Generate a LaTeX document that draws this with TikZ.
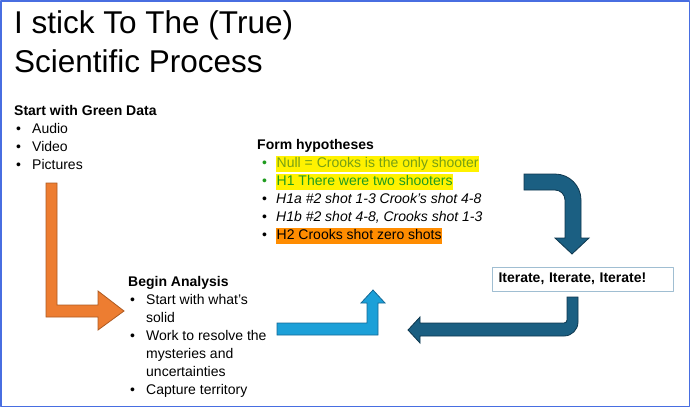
\documentclass[tikz,border=0pt]{standalone}
\usepackage{fontspec}
\setmainfont{Liberation Sans}
\definecolor{framecol}{RGB}{72,110,225}
\definecolor{orangefill}{RGB}{237,125,49}
\definecolor{orangeline}{RGB}{174,90,33}
\definecolor{skyfill}{RGB}{28,160,216}
\definecolor{skyline}{RGB}{20,105,150}
\definecolor{navyfill}{RGB}{27,95,130}
\definecolor{navyline}{RGB}{14,55,78}
\definecolor{boxline}{RGB}{160,190,210}
\definecolor{nullcol}{RGB}{118,160,20}
\definecolor{hgreen}{RGB}{30,155,30}
\definecolor{hlorange}{RGB}{255,140,0}
\tikzset{
  title/.style={anchor=base west,inner sep=0pt,font=\fontsize{31.5}{39}\selectfont},
  txt/.style={anchor=base west,inner sep=0pt,font=\fontsize{14}{18}\selectfont},
  head/.style={txt,font=\fontsize{14}{18}\selectfont\bfseries},
  bulletdot/.style={txt},
  hl/.style={txt,inner xsep=0.5pt,inner ysep=1.5pt,text height=10pt,text depth=3.5pt},
  blockarrow/.style={line width=0.8pt,line join=miter}
}
\begin{document}
\begin{tikzpicture}[x=1pt,y=-1pt,line join=round]
	\useasboundingbox (0,0) rectangle (690,407);
	\draw[framecol,line width=1.5pt] (0.75,0.75) rectangle (689.25,406.25);
	% title
	\node[title] (t1) at (14,33) {I stick To The (True)};
	\node[title] (t2) at (14,72) {Scientific Process};
	% green data
	\node[head] (data) at (14,115) {Start with Green Data};
	\node[txt] (d1) at (32,133) {Audio};
	\node[txt] (d2) at (32,151) {Video};
	\node[txt] (d3) at (32,169) {Pictures};
	\foreach \y in {133,151,169} \node[bulletdot] at (16,\y) {•};
	% hypotheses
	\node[head] (hyp) at (257,149) {Form hypotheses};
	\node[hl,fill=yellow,text=nullcol] (h0) at (276,167) {Null = Crooks is the only shooter};
	\node[hl,fill=yellow,text=hgreen] (h1) at (276,185) {H1 There were two shooters};
	\node[txt] (h1a) at (276,203) {\itshape H1a \#2 shot 1-3 Crook’s shot 4-8};
	\node[txt] (h1b) at (276,221) {\itshape H1b \#2 shot 4-8, Crooks shot 1-3};
	\node[hl,fill=hlorange] (h2) at (276,239) {H2 Crooks shot zero shots};
	\foreach \y in {167,185} \node[bulletdot,text=hgreen] at (262,\y) {•};
	\foreach \y in {203,221,239} \node[bulletdot] at (262,\y) {•};
	% analysis
	\node[head] (ana) at (128,286) {Begin Analysis};
	\node[txt] (a1) at (146,304) {Start with what’s};
	\node[txt] (a1b) at (146,322) {solid};
	\node[txt] (a2) at (146,340) {Work to resolve the};
	\node[txt] (a2b) at (146,358) {mysteries and};
	\node[txt] (a2c) at (146,376) {uncertainties};
	\node[txt] (a3) at (146,394) {Capture territory};
	\foreach \y in {304,340,394} \node[bulletdot] at (130,\y) {•};
	% iterate box
	\node[draw=boxline,line width=1pt,anchor=west,minimum width=181pt,minimum height=24pt,
		inner xsep=6pt,text width=169pt,align=left,font=\fontsize{14}{16}\selectfont\bfseries] (iter) at (492,279) {Iterate, Iterate, Iterate!};
	% arrows
	\draw[blockarrow,fill=orangefill,draw=orangeline] (46,183) -- (57,183) -- (57,305) -- (98,305) -- (98,291)
		-- (124,311) -- (98,330) -- (98,317) -- (46,317) -- cycle;
	\draw[blockarrow,fill=skyfill,draw=skyline] (277,323) -- (367,323) -- (367,303) -- (361,303) -- (373,290)
		-- (385,303) -- (378,303) -- (378,335) -- (277,335) -- cycle;
	\draw[blockarrow,fill=navyfill,draw=navyline] (524,174) -- (555,174) arc[start angle=-90,end angle=0,radius=26]
		-- (581,238) -- (589,238) -- (572,254) -- (555,238) -- (565,238) -- (565,200)
		arc[start angle=0,end angle=-90,radius=10] -- (524,190) -- cycle;
	\draw[blockarrow,fill=navyfill,draw=navyline] (567,297) -- (578,297) -- (578,322) arc[start angle=0,end angle=90,radius=14]
		-- (420,336) -- (420,343) -- (408,330) -- (420,317) -- (420,323) -- (564,323)
		arc[start angle=90,end angle=0,radius=3] -- cycle;
\end{tikzpicture}
\end{document}
